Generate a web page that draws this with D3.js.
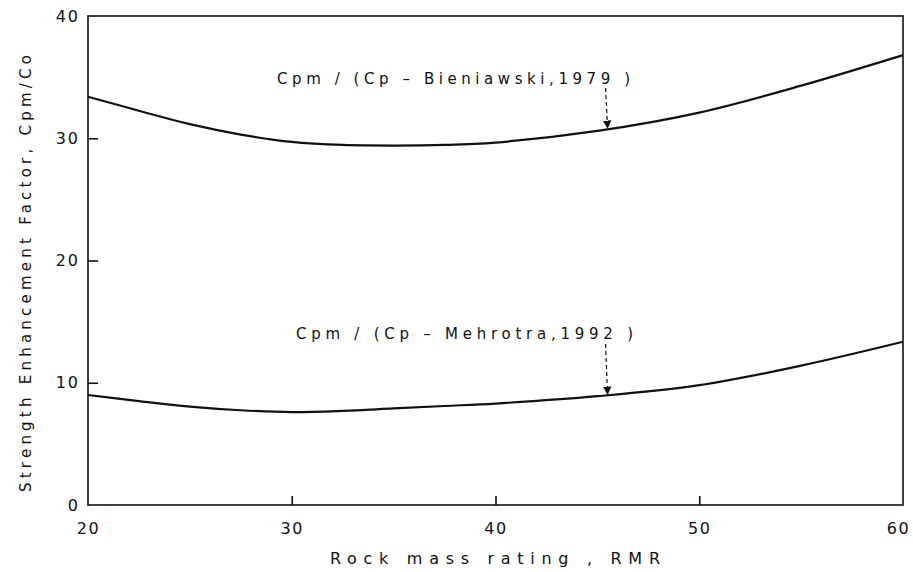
<!DOCTYPE html>
<html>
<head>
<meta charset="utf-8">
<script src="https://cdn.jsdelivr.net/npm/d3@7"></script>
<style>
  html, body { margin: 0; padding: 0; background: #fff; }
  svg text { font-family: "DejaVu Sans", sans-serif; fill: #111; }
</style>
</head>
<body>
<svg id="chart" width="913" height="572"></svg>
<script>
// ---- data ----
const rmrValues = [20, 22.5, 25, 27.5, 30, 32.5, 35, 37.5, 40, 45, 50, 55, 60];
const bieniawskiSeries = [33.4, 32.25, 31.15, 30.3, 29.7, 29.45, 29.4, 29.45, 29.65, 30.6, 32.1, 34.3, 36.8];
const mehrotraSeries   = [9.0, 8.5, 8.05, 7.75, 7.6, 7.7, 7.9, 8.1, 8.3, 8.9, 9.8, 11.4, 13.35];
const xTickValues = [20, 30, 40, 50, 60];
const yTickValues = [0, 10, 20, 30, 40];
const seriesLabels = ["Cpm / (Cp – Bieniawski,1979 )", "Cpm / (Cp – Mehrotra,1992 )"];
const xAxisTitle = "Rock mass rating , RMR";
const yAxisTitle = "Strength Enhancement Factor, Cpm/Co";

// ---- layout ----
const svg = d3.select("#chart");
const mLeft = 88, mRight = 903, mTop = 16, mBottom = 505;
const x = d3.scaleLinear().domain([20, 60]).range([mLeft, mRight]);
const y = d3.scaleLinear().domain([0, 40]).range([mBottom, mTop]);

// frame
svg.append("rect")
  .attr("x", mLeft).attr("y", mTop)
  .attr("width", mRight - mLeft).attr("height", mBottom - mTop)
  .attr("fill", "none").attr("stroke", "#111").attr("stroke-width", 1.6);

// axes with inward ticks
const xAxis = d3.axisBottom(x).tickValues(xTickValues).tickSize(-9).tickPadding(18).tickFormat(d3.format("d"));
const gx = svg.append("g").attr("transform", `translate(0,${mBottom})`).call(xAxis);
gx.select(".domain").remove();
gx.selectAll(".tick line").attr("stroke", "#111").attr("stroke-width", 1.6)
  .filter(d => d === 20 || d === 60).remove();
gx.selectAll(".tick text").attr("font-size", 16).attr("letter-spacing", 1.5).attr("fill", "#111")
  .attr("font-family", "DejaVu Sans, sans-serif")
  .attr("dx", d => d === 60 ? -5 : 0);

const yAxis = d3.axisLeft(y).tickValues(yTickValues).tickSize(-10).tickPadding(8).tickFormat(d3.format("d"));
const gy = svg.append("g").attr("transform", `translate(${mLeft},0)`).call(yAxis);
gy.select(".domain").remove();
gy.selectAll(".tick line").attr("stroke", "#111").attr("stroke-width", 1.6)
  .filter(d => d === 0 || d === 40).remove();
gy.selectAll(".tick text").attr("font-size", 16).attr("letter-spacing", 2).attr("fill", "#111")
  .attr("font-family", "DejaVu Sans, sans-serif");

// curves
const line = d3.line()
  .x((d, i) => x(rmrValues[i]))
  .y(d => y(d))
  .curve(d3.curveCatmullRom.alpha(0.5));

[bieniawskiSeries, mehrotraSeries].forEach(s => {
  svg.append("path").datum(s)
    .attr("d", line)
    .attr("fill", "none").attr("stroke", "#111").attr("stroke-width", 2.2);
});

// arrow marker
svg.append("defs").append("marker")
  .attr("id", "ah").attr("viewBox", "0 0 10 10")
  .attr("refX", 9).attr("refY", 5)
  .attr("markerWidth", 7).attr("markerHeight", 9)
  .attr("orient", "auto")
  .append("path").attr("d", "M0,0 L10,5 L0,10 Z").attr("fill", "#111");

// annotation labels + dashed arrows
const annotations = [
  { text: seriesLabels[0], tx: 277, ty: 84, len: 353, ax: 45.5, series: bieniawskiSeries, y0: 88 },
  { text: seriesLabels[1], tx: 296, ty: 339, len: 337, ax: 45.5, series: mehrotraSeries, y0: 344 }
];
function valueAt(series, xv) {
  const interp = d3.scaleLinear().domain(rmrValues).range(series);
  return interp(xv);
}
annotations.forEach(a => {
  svg.append("text")
    .attr("x", a.tx).attr("y", a.ty)
    .attr("font-size", 15)
    .attr("textLength", a.len).attr("lengthAdjust", "spacing")
    .text(a.text);
  const px = x(a.ax);
  const py = y(valueAt(a.series, a.ax));
  svg.append("line")
    .attr("x1", px - 2).attr("y1", a.y0)
    .attr("x2", px).attr("y2", py - 1)
    .attr("stroke", "#111").attr("stroke-width", 1.2)
    .attr("stroke-dasharray", "4,3")
    .attr("marker-end", "url(#ah)");
});

// axis titles
svg.append("text")
  .attr("x", 330).attr("y", 564)
  .attr("font-size", 16)
  .attr("textLength", 330).attr("lengthAdjust", "spacing")
  .text(xAxisTitle);

svg.append("text")
  .attr("transform", `translate(31,492) rotate(-90)`)
  .attr("font-size", 15)
  .attr("textLength", 437).attr("lengthAdjust", "spacing")
  .text(yAxisTitle);
</script>
</body>
</html>
